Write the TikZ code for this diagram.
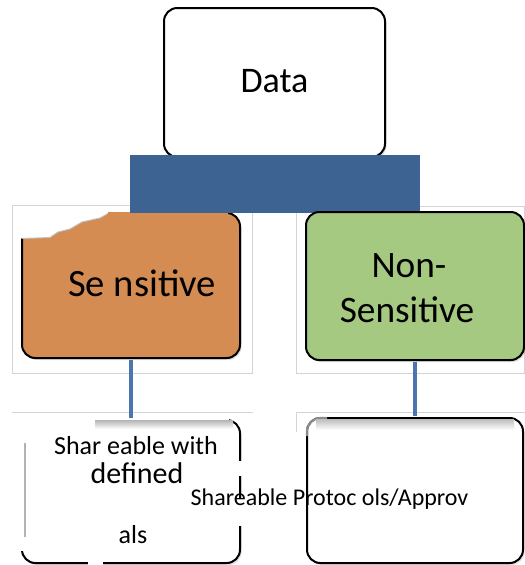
\documentclass[tikz,border=0pt]{standalone}
\usepackage{fontspec}
\setmainfont{Carlito}
\usetikzlibrary{shadows}
\definecolor{orangeb}{HTML}{D48C52}
\definecolor{greenb}{HTML}{A6C981}
\definecolor{barblue}{HTML}{3C6391}
\definecolor{connblue}{HTML}{4A75B0}
\definecolor{framegray}{HTML}{D4D4D4}
\begin{document}
\begin{tikzpicture}[x=0.75pt,y=-0.75pt,
  box/.style={draw=black, line width=1.5pt, rounded corners=10pt, inner sep=0pt,
    drop shadow={shadow xshift=1.2pt, shadow yshift=-1.5pt, opacity=0.25}},
  frameline/.style={draw=framegray, line width=0.75pt},
  conn/.style={draw=connblue, line width=3.6pt},
  fbig/.style={font=\fontsize{29}{34}\selectfont},
  fdata/.style={font=\fontsize{27}{32}\selectfont},
  fnon/.style={font=\fontsize{28}{34}\selectfont},
  fmid/.style={font=\fontsize{19.5}{23}\selectfont},
  fdef/.style={font=\fontsize{22.5}{26}\selectfont},
  fsmall/.style={font=\fontsize{18}{21}\selectfont}]
\useasboundingbox (0,0) rectangle (525,565);
\fill[white] (0,0) rectangle (525,565);
% frames
\draw[frameline] (12,205) rectangle (252,373);
\draw[frameline] (296,206) rectangle (524.6,373);
\draw[frameline] (12,412) -- (253,412);
\draw[frameline] (296,432) -- (296,412) -- (525,412);
% Data
\node[box, fill=white, minimum width={221*0.75pt}, minimum height={149*0.75pt}] (data) at (274.5,82.5) {};
\node[fdata, anchor=base] (datat) at (274.5,92) {Data};
% Sensitive
\node[box, fill=orangeb, minimum width={218*0.75pt}, minimum height={145*0.75pt}] (sens) at (131,285.5) {};
\fill[white] (19,211) -- (19,238.5) -- (50,237.5) -- (58,232) -- (70,229) -- (82,222) -- (100,218) -- (108,213.5) -- (110,211) -- cycle;
\draw[black!25, line width=0.7pt] (22,238.5) -- (50,237.5) -- (58,232) -- (70,229) -- (82,222) -- (100,218) -- (108,213.5);
\fill[orangeb] (108,212) rectangle (228,215.5);
% bar
\node[fill=barblue, inner sep=0pt, minimum width={290*0.75pt}, minimum height={58*0.75pt}] (bar) at (275,184) {};
\node[fbig, anchor=base] (senst) at (142,296) {Se nsitive};
% Non-Sensitive
\node[box, fill=greenb, minimum width={218*0.75pt}, minimum height={148*0.75pt}] (nons) at (415,286) {};
\node[fnon, anchor=base] (nont1) at (409,277) {Non-};
\node[fnon, anchor=base] (nont2) at (407,322) {Sensitive};
% bottom left
\node[box, fill=white, minimum width={218*0.75pt}, minimum height={143*0.75pt}] (shl) at (131,491.5) {};
\fill[white] (14,414) rectangle (92,551);
\fill[white] (14,414) rectangle (229,425);
\fill[white] (236,461) rectangle (246,476);
\fill[white] (236,498) rectangle (246,526);
\fill[white] (88,557) rectangle (103,566);
\shade[top color=black!28, bottom color=white] (95,420.5) rectangle (233,429);
\draw[black!30, line width=0.8pt] (25,443) -- (25,537);
% bottom right
\node[box, fill=white, minimum width={216*0.75pt}, minimum height={145*0.75pt}] (shr) at (415,490.5) {};
\draw[black!45, line width=1.6pt, rounded corners=10pt] (307,436) -- (307,418) -- (327,418);
\shade[top color=black!25, bottom color=white] (316,419.5) rectangle (514,430);
% texts
\node[fmid, anchor=base] (t1) at (136,454) {Shar eable with};
\node[fdef, anchor=base] (t2) at (137,483) {defined};
\node[fsmall, anchor=base west] (t3) at (186,505) {Shareable Protoc ols/Approv};
\node[fmid, anchor=base] (t4) at (133,543) {als};
% connectors
\draw[conn, shorten <=0.8pt, shorten >=0.8pt] (sens.south) -- (shl.north);
\draw[conn, shorten <=0.8pt, shorten >=0.8pt] (nons.south) -- (shr.north);
\end{tikzpicture}
\end{document}
